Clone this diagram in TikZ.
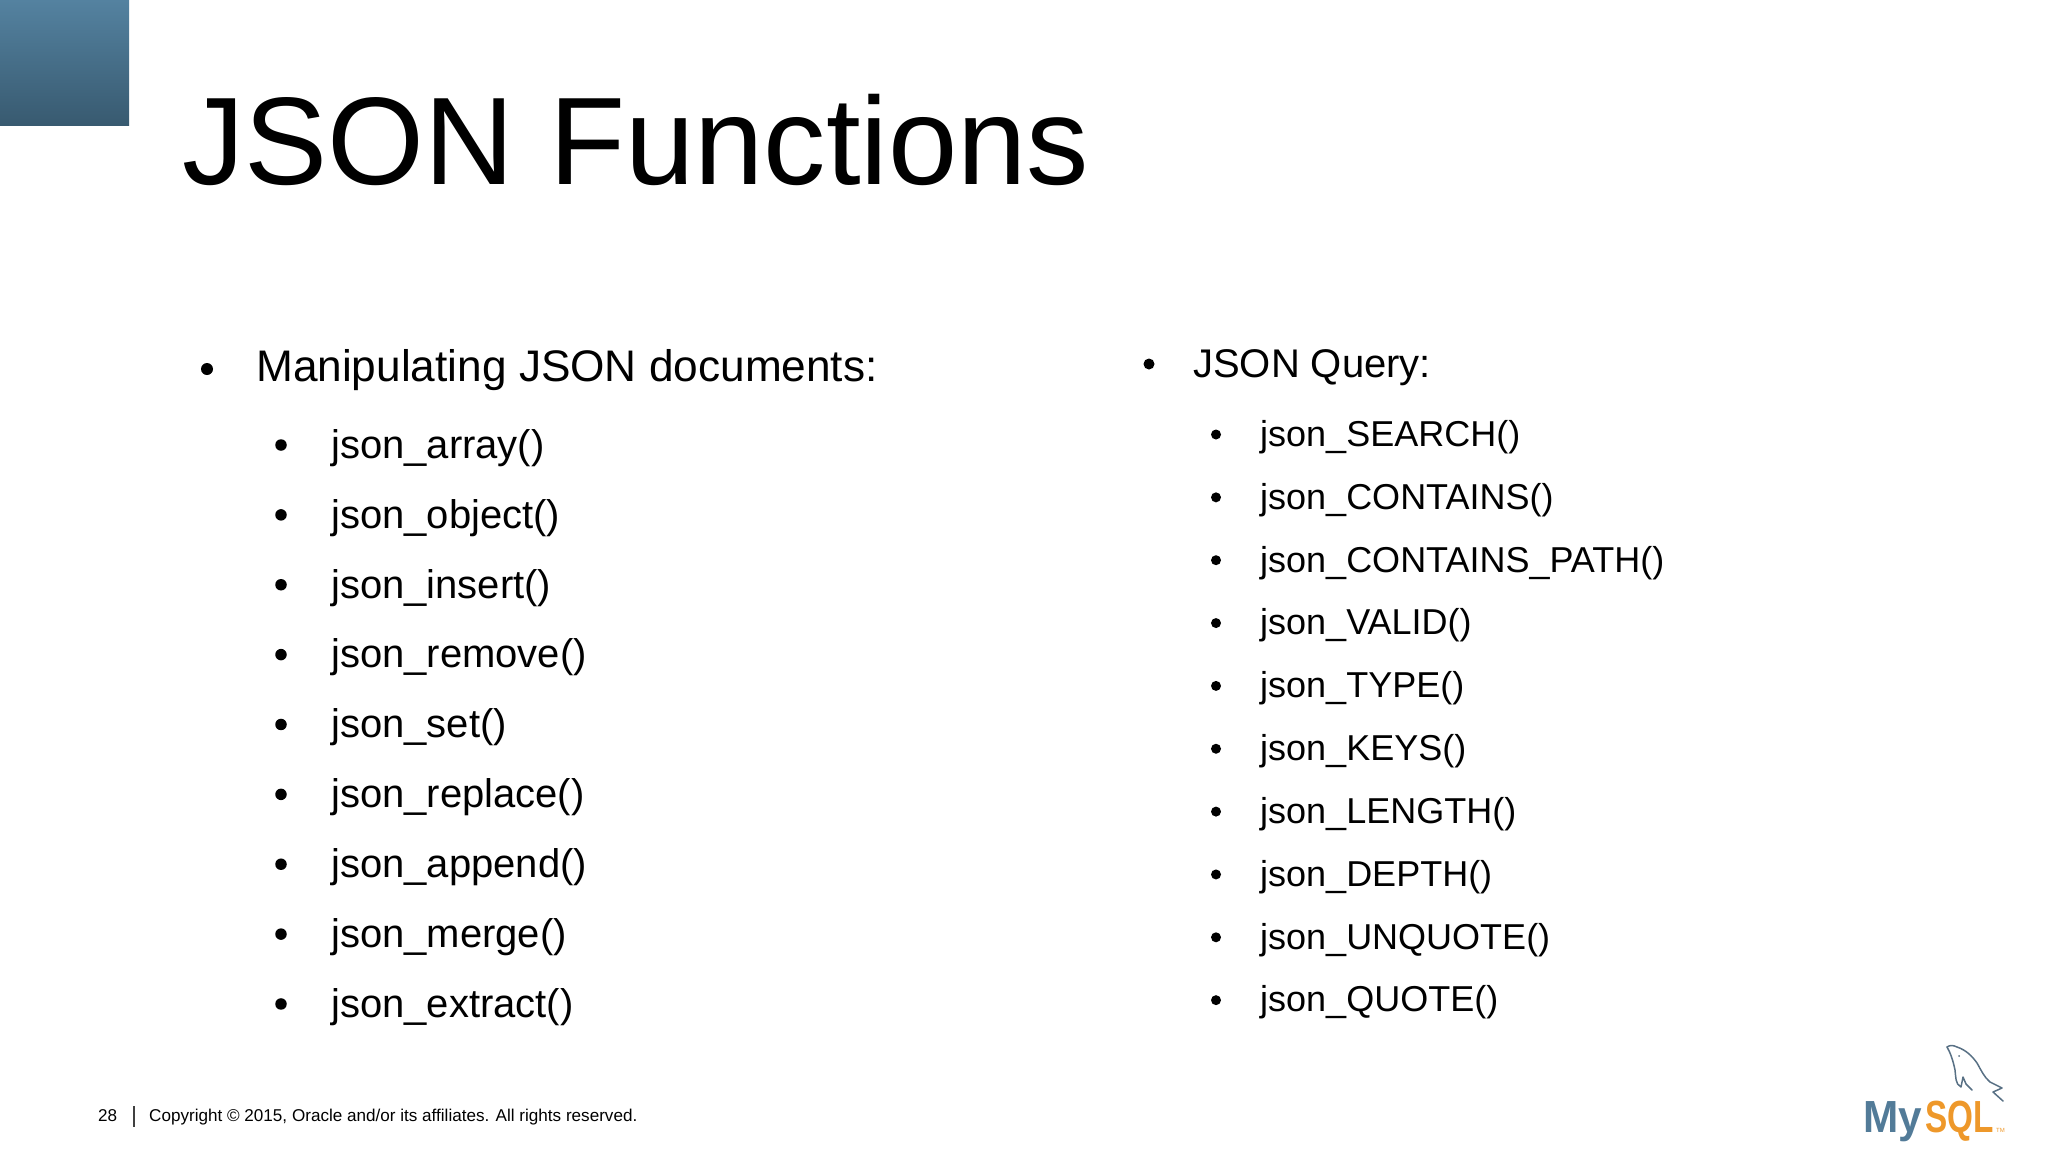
\documentclass[tikz,border=0pt]{standalone}
\usepackage{fontspec}
\setmainfont{Liberation Sans}
\definecolor{tabtop}{RGB}{84,130,160}
\definecolor{tabbot}{RGB}{56,90,112}
\definecolor{logoblue}{RGB}{82,123,152}
\definecolor{logoorange}{RGB}{238,152,42}
\definecolor{finline}{RGB}{88,112,132}
\tikzset{
  heading/.style={anchor=base west, inner sep=0pt, font=\fontsize{44.2}{44}\selectfont},
  lefttext/.style={anchor=base west, inner sep=0pt, font=\fontsize{40}{40}\selectfont},
  righttext/.style={anchor=base west, inner sep=0pt, font=\fontsize{36}{36}\selectfont},
  footer/.style={anchor=base west, inner sep=0pt, font=\fontsize{17.1}{18}\selectfont},
  logotext/.style={anchor=base west, inner sep=0pt, font=\fontsize{45}{45}\selectfont\bfseries, transform shape},
  dot/.style={circle, fill=black, inner sep=0pt, minimum size=#1}
}
\begin{document}
\begin{tikzpicture}[x=1pt, y=-1pt]
    \useasboundingbox (0,0) rectangle (2048,1152);
    \shade[top color=tabtop, bottom color=tabbot] (0,0) rectangle (129,125);

    \node[anchor=base west, inner sep=0pt, font=\fontsize{124.6}{125}\selectfont] (title) at (182,184) {JSON Functions};

    % left column
    \node[heading] (manip) at (256,381) {Manipulating JSON documents:};
    \node[dot=12pt] (manipdot) at (207,369) {};
    \foreach \fname [count=\i] in {json\_array(), json\_object(), json\_insert(), json\_remove(), json\_set(), json\_replace(), json\_append(), json\_merge(), json\_extract()} {
      \node[lefttext] (left\i) at (331,{458.3+69.87*(\i-1)}) {\fname};
      \node[dot=11.5pt] (leftdot\i) at (281,{445+69.87*(\i-1)}) {};
    }

    % right column
    \node[heading, font=\fontsize{40}{40}\selectfont] (query) at (1193,377) {JSON Query:};
    \node[dot=11pt] (querydot) at (1149,364) {};
    \foreach \fname [count=\i] in {json\_SEARCH(), json\_CONTAINS(), json\_CONTAINS\_PATH(), json\_VALID(), json\_TYPE(), json\_KEYS(), json\_LENGTH(), json\_DEPTH(), json\_UNQUOTE(), json\_QUOTE()} {
      \node[righttext] (right\i) at (1260,{446.3+62.85*(\i-1)}) {\fname};
      \node[dot=10pt] (rightdot\i) at (1216,{434.5+62.85*(\i-1)}) {};
    }

    % footer
    \node[footer] (pageno) at (98,1121) {28};
    \node[footer] (copyright) at (149,1121) {Copyright © 2015, Oracle and/or its affiliates. All rights reserved.};
    \draw[line width=1.5pt, black!75] (134,1106) -- (134,1127);

    % logo
    \node[logotext, xscale=.94, text=logoblue] (my) at (1863,1132) {My};
    \node[logotext, xscale=.74, text=logoorange] (sql) at (1925,1132) {SQL};
    \node[anchor=base west, inner sep=0pt, font=\fontsize{6}{6}\selectfont, text=logoorange] (tm) at (1996,1132) {TM};
    \draw[finline, line width=1.5pt, line join=round, line cap=round]
      (1947,1047) .. controls (1950,1045) and (1953,1045) .. (1957,1047)
      .. controls (1966,1050) and (1972,1056) .. (1977,1063)
      .. controls (1981,1070) and (1984,1077) .. (1990,1082)
      -- (2002,1088) -- (1993,1092) -- (2003,1101);
    \draw[finline, line width=1.5pt, line join=round, line cap=round]
      (1947,1047) .. controls (1950,1052) and (1953,1060) .. (1955,1070)
      .. controls (1956,1077) and (1955,1084) .. (1961,1087)
      -- (1963,1077) -- (1966,1084) -- (1972,1090);
    \fill[finline] (1959,1056) circle (1pt);
\end{tikzpicture}
\end{document}
